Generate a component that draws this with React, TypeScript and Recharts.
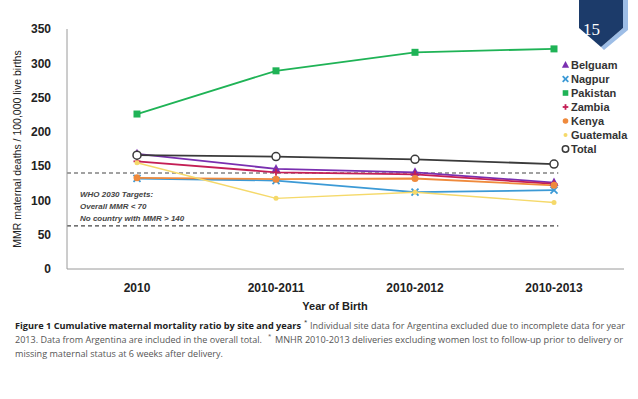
import React from 'react';
import { LineChart, Line, XAxis, YAxis, ReferenceLine } from 'recharts';

const categories = ['2010', '2010-2011', '2010-2012', '2010-2013'];
const belguam = [168, 146, 141, 126];
const nagpur = [132, 129, 112, 115];
const pakistan = [226, 289, 316, 321];
const zambia = [157, 141, 138, 124];
const kenya = [133, 131, 132, 122];
const guatemala = [155, 103, 112, 97];
const total = [166, 164, 160, 153];
const yTicks = [0, 50, 100, 150, 200, 250, 300, 350];
const targetLines = [140, 63];

const data = categories.map((c, i) => ({
  year: c,
  Belguam: belguam[i],
  Nagpur: nagpur[i],
  Pakistan: pakistan[i],
  Zambia: zambia[i],
  Kenya: kenya[i],
  Guatemala: guatemala[i],
  Total: total[i],
}));

const series = [
  { key: 'Belguam', color: '#7a2fb0', shape: 'triangle' },
  { key: 'Nagpur', color: '#3c9ad6', shape: 'x' },
  { key: 'Pakistan', color: '#1fb356', shape: 'square' },
  { key: 'Zambia', color: '#c41e55', shape: 'plus' },
  { key: 'Kenya', color: '#ef8a3c', shape: 'circle' },
  { key: 'Guatemala', color: '#f5d96a', shape: 'star' },
  { key: 'Total', color: '#3a3a3a', shape: 'open' },
];

function Marker({ cx, cy, shape, color, s = 1 }: any) {
  if (cx == null || cy == null) return null;
  switch (shape) {
    case 'triangle':
      return <polygon points={`${cx},${cy - 5 * s} ${cx + 4.5 * s},${cy + 3.5 * s} ${cx - 4.5 * s},${cy + 3.5 * s}`} fill={color} />;
    case 'x':
      return (
        <g stroke={color} strokeWidth={1.8}>
          <line x1={cx - 3.5 * s} y1={cy - 3.5 * s} x2={cx + 3.5 * s} y2={cy + 3.5 * s} />
          <line x1={cx - 3.5 * s} y1={cy + 3.5 * s} x2={cx + 3.5 * s} y2={cy - 3.5 * s} />
        </g>
      );
    case 'square':
      return <rect x={cx - 3.5 * s} y={cy - 3.5 * s} width={7 * s} height={7 * s} fill={color} />;
    case 'plus':
      return (
        <g stroke={color} strokeWidth={1.8}>
          <line x1={cx - 3.5 * s} y1={cy} x2={cx + 3.5 * s} y2={cy} />
          <line x1={cx} y1={cy - 3.5 * s} x2={cx} y2={cy + 3.5 * s} />
        </g>
      );
    case 'circle':
      return <circle cx={cx} cy={cy} r={3.5 * s} fill={color} />;
    case 'star':
      return <circle cx={cx} cy={cy} r={2.5 * s} fill={color} />;
    case 'open':
      return <circle cx={cx} cy={cy} r={4 * s} fill="#fff" stroke={color} strokeWidth={1.5} />;
    default:
      return null;
  }
}

const TargetLine = (p: any) => {
  const x1 = Number(p.x1);
  const x2 = Number(p.x2);
  const y1 = Number(p.y1);
  if (!isFinite(x1) || !isFinite(x2) || !isFinite(y1)) return null;
  const end = x1 + (x2 - x1) * 0.882;
  return <line x1={x1} y1={y1} x2={end} y2={y1} stroke="#444" strokeDasharray="4 3" strokeWidth={1.2} />;
};

const LegendBox = () => (
  <div
    style={{
      position: 'absolute',
      left: 561,
      top: 58,
      width: 77,
      fontFamily: 'Liberation Sans, Arial, sans-serif',
      fontWeight: 'bold',
      fontSize: 11,
      color: '#333',
    }}
  >
    {series.map((s) => (
      <div key={s.key} style={{ display: 'flex', alignItems: 'center', height: 14 }}>
        <svg width={9} height={12} style={{ marginRight: 1 }}>
          <Marker cx={4.5} cy={6} shape={s.shape} color={s.color} s={0.8} />
        </svg>
        <span>{s.key}</span>
      </div>
    ))}
  </div>
);

export default function App() {
  const font = 'Liberation Sans, Arial, sans-serif';
  return (
    <div style={{ position: 'absolute', left: 0, top: 0, width: 638, height: 399, background: '#fff' }}>
      <LineChart width={638} height={399} data={data} margin={{ top: 29, right: 14, bottom: 100, left: 0 }}>
        <XAxis
          dataKey="year"
          axisLine={{ stroke: '#9a9a9a' }}
          tickLine={false}
          tick={{ fill: '#222', fontSize: 12, fontWeight: 'bold', fontFamily: font }}
          tickMargin={8}
          height={30}
          padding={{ left: 70, right: 70 }}
        />
        <YAxis
          domain={[0, 350]}
          ticks={yTicks}
          axisLine={{ stroke: '#9a9a9a' }}
          tickLine={false}
          width={67}
          tick={{ fill: '#222', fontSize: 12, fontWeight: 'bold', fontFamily: font }}
          tickMargin={10}
          label={{
            value: 'MMR maternal deaths / 100,000 live births',
            angle: -90,
            position: 'insideLeft',
            offset: 17,
            style: { textAnchor: 'middle', fill: '#222', fontSize: 10.5, fontFamily: font },
          }}
        />
        {targetLines.map((v) => (
          <ReferenceLine key={v} y={v} stroke="#444" strokeDasharray="4 3" shape={TargetLine} />
        ))}
        {series.map((s) => (
          <Line
            key={s.key}
            dataKey={s.key}
            stroke={s.color}
            strokeWidth={s.key === 'Guatemala' ? 1.4 : 1.8}
            isAnimationActive={false}
            dot={(p: any) => <Marker key={`${s.key}-${p.index}`} cx={p.cx} cy={p.cy} shape={s.shape} color={s.color} />}
            activeDot={false}
          />
        ))}
      </LineChart>
      <LegendBox />
      <svg width={638} height={399} style={{ position: 'absolute', left: 0, top: 0, pointerEvents: 'none' }}>
        <g fontFamily={font} fontStyle="italic" fontWeight="bold" fontSize={8} fill="#444">
          <text x={80} y={197}>WHO 2030 Targets:</text>
          <text x={80} y={209}>Overall MMR &lt; 70</text>
          <text x={80} y={221}>No country with MMR &gt; 140</text>
        </g>
        <text x={335} y={310} textAnchor="middle" fontFamily={font} fontWeight="bold" fontSize={11} fill="#222">Year of Birth</text>
        <g fontFamily="'Open Sans', sans-serif" fontSize={9.3} fill="#555">
          <text x={15} y={329} textLength={286} lengthAdjust="spacingAndGlyphs" fontSize={9.6} fontWeight="bold" fill="#222">Figure 1 Cumulative maternal mortality ratio by site and years</text>
          <text x={304} y={324} fontSize={6} fill="#222">*</text>
          <text x={310} y={329} textLength={315} lengthAdjust="spacingAndGlyphs">Individual site data for Argentina excluded due to incomplete data for year</text>
          <text x={15} y={343} textLength={247} lengthAdjust="spacingAndGlyphs">2013. Data from Argentina are included in the overall total.</text>
          <text x={268} y={338} fontSize={6}>*</text>
          <text x={275} y={343} textLength={348} lengthAdjust="spacingAndGlyphs">MNHR 2010-2013 deliveries excluding women lost to follow-up prior to delivery or</text>
          <text x={15} y={357} textLength={208} lengthAdjust="spacingAndGlyphs">missing maternal status at 6 weeks after delivery.</text>
        </g>
        <polygon points="623,0 628,0 628,30 604,50 601,47 623,28" fill="#9dbde6" />
        <polygon points="579,0 623,0 623,28 601,47 579,28" fill="#1c3b6a" />
        <text x={583} y={35} fontFamily="'Liberation Serif', serif" fontSize={17} fill="#fff">15</text>
      </svg>
    </div>
  );
}
